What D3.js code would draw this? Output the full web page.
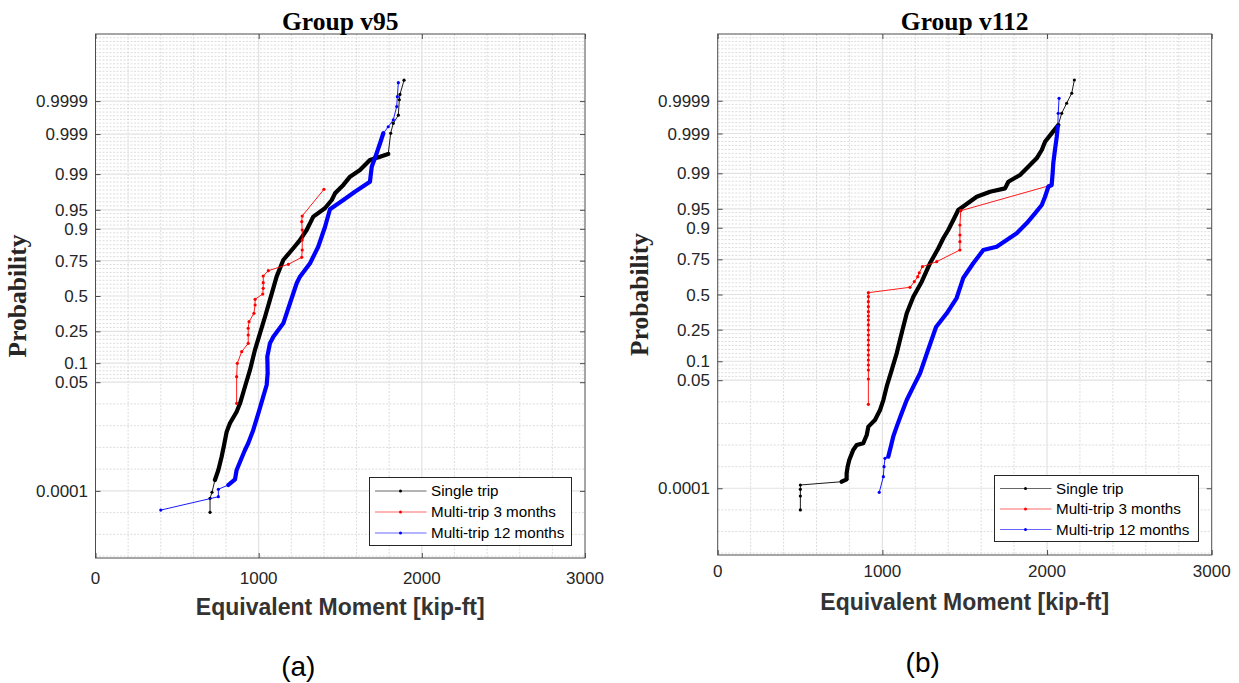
<!DOCTYPE html>
<html><head><meta charset="utf-8">
<script src="https://cdn.jsdelivr.net/npm/d3@7"></script>
<style>body{margin:0;background:#fff}svg{display:block}</style>
</head><body><svg id="chart" width="1239" height="683"></svg>
<script>
// ---------------- data ----------------
const yTickProbs  = [0.0001,0.05,0.1,0.25,0.5,0.75,0.9,0.95,0.99,0.999,0.9999];
const yTickLabels = ["0.0001","0.05","0.1","0.25","0.5","0.75","0.9","0.95","0.99","0.999","0.9999"];
const xTicks = [0,1000,2000,3000];
const seriesNames = ["Single trip","Multi-trip 3 months","Multi-trip 12 months"];
const panelTitles = ["Group v95","Group v112"];
const panelTags = ["(a)","(b)"];

// Group v95
const v95SingleX = [702,702,714,732,753,773,788,804,824,865,886,916,947,977,1008,1039,1069,1110,1151,1212,1253,1294,1335,1406,1448,1468,1519,1560,1621,1682,1744,1794,1809,1825,1856,1862,1866,1891];
const v95SingleP = [0.0000183,0.0000565,0.00009,0.000223,0.00045,0.00108,0.00223,0.0048,0.0076,0.0136,0.0203,0.0417,0.079,0.151,0.238,0.346,0.47,0.644,0.754,0.819,0.857,0.896,0.935,0.953,0.9665,0.975,0.983,0.9886,0.9919,0.99527,0.99607,0.99664,0.99905,0.99951,0.99972,0.99991,0.99994,0.999981];
const v95M3X = [865,865,869,896,936,936,936,941,971,978,978,1025,1028,1028,1028,1059,1182,1264,1267,1267,1267,1264,1267,1400];
const v95M3P = [0.0203,0.0618,0.0995,0.1439,0.1833,0.2284,0.269,0.312,0.3707,0.4318,0.475,0.515,0.5584,0.6,0.6487,0.6854,0.7274,0.77,0.81,0.8574,0.896,0.922,0.9366,0.9791];
const v95M12X = [400,753,753,814,855,865,886,916,936,967,998,1028,1049,1055,1053,1069,1090,1151,1192,1233,1253,1315,1365,1407,1437,1519,1590,1682,1693,1723,1744,1764,1794,1825,1846,1850,1856];
const v95M12P = [0.000022,0.000064,0.000113,0.000155,0.000234,0.00045,0.00078,0.00165,0.00247,0.0053,0.0126,0.0273,0.0447,0.0701,0.1234,0.183,0.2186,0.301,0.445,0.596,0.644,0.734,0.8266,0.907,0.951,0.9665,0.9767,0.9854,0.9932,0.99677,0.99822,0.99905,0.99938,0.99961,0.99985,0.999929,0.9999766];

// Group v112
const v112SingleX = [502,502,502,502,753,783,783,789,799,823,844,884,905,915,955,986,1006,1026,1057,1087,1117,1148,1188,1239,1289,1340,1370,1400,1431,1461,1512,1573,1654,1745,1765,1836,1886,1937,1968,1988,2028,2068,2089,2119,2150,2166];
const v112SingleP = [0.0000177,0.000055,0.000092,0.000128,0.000163,0.000195,0.0003,0.000475,0.00074,0.00142,0.00193,0.00215,0.0035,0.0056,0.008,0.0133,0.0214,0.0384,0.0737,0.1295,0.228,0.359,0.483,0.597,0.7254,0.8124,0.8597,0.892,0.9236,0.9476,0.9588,0.9697,0.9757,0.9792,0.9848,0.9891,0.99292,0.99553,0.99723,0.99832,0.99901,0.99943,0.999747,0.999879,0.999944,0.9999808];
const v112M3X = [915,915,915,915,915,915,915,915,915,915,915,915,915,915,915,915,915,915,915,1168,1194,1215,1224,1243,1330,1471,1471,1471,1471,1476,2008];
const v112M3P = [0.01755,0.0524,0.0737,0.088,0.1044,0.1228,0.1434,0.1663,0.1913,0.2186,0.2479,0.2793,0.3124,0.3399,0.3707,0.4075,0.4451,0.4832,0.514,0.555,0.597,0.6337,0.662,0.7033,0.7356,0.8035,0.8445,0.8733,0.9089,0.9461,0.9814];
const v112M12X = [981,1006,1010,1016,1036,1051,1066,1087,1117,1148,1188,1229,1269,1326,1391,1451,1491,1552,1613,1694,1755,1816,1876,1927,1968,1988,2008,2028,2034,2038,2048,2059,2065,2068,2073];
const v112M12P = [0.000073,0.000235,0.000475,0.00083,0.00093,0.00174,0.00318,0.0056,0.0113,0.0214,0.0384,0.0653,0.1267,0.2664,0.359,0.473,0.624,0.7254,0.8035,0.8205,0.8522,0.88,0.9141,0.9405,0.9571,0.9697,0.9807,0.9822,0.99,0.9941,0.99723,0.99877,0.99936,0.999747,0.999917];

// ---------------- helpers ----------------
function norminv(p){
  const a=[-3.969683028665376e+01,2.209460984245205e+02,-2.759285104469687e+02,1.383577518672690e+02,-3.066479806614716e+01,2.506628277459239e+00];
  const b=[-5.447609879822406e+01,1.615858368580409e+02,-1.556989798598866e+02,6.680131188771972e+01,-1.328068155288572e+01];
  const c=[-7.784894002430293e-03,-3.223964580411365e-01,-2.400758277161838e+00,-2.549732539343734e+00,4.374664141464968e+00,2.938163982698783e+00];
  const d=[7.784695709041462e-03,3.224671290700398e-01,2.445134137142996e+00,3.754408661907416e+00];
  const pl=0.02425, ph=1-pl; let q,r;
  if(p<pl){q=Math.sqrt(-2*Math.log(p));return (((((c[0]*q+c[1])*q+c[2])*q+c[3])*q+c[4])*q+c[5])/((((d[0]*q+d[1])*q+d[2])*q+d[3])*q+1);}
  if(p>ph){q=Math.sqrt(-2*Math.log(1-p));return -(((((c[0]*q+c[1])*q+c[2])*q+c[3])*q+c[4])*q+c[5])/((((d[0]*q+d[1])*q+d[2])*q+d[3])*q+1);}
  q=p-0.5;r=q*q;return (((((a[0]*r+a[1])*r+a[2])*r+a[3])*r+a[4])*r+a[5])*q/(((((b[0]*r+b[1])*r+b[2])*r+b[3])*r+b[4])*r+1);
}
const zip = (xs, ps) => xs.map((x,i)=>({x, p: ps[i]}));

const colors = ["#000000","#ff0000","#0000ff"];
const panels = [
  {title: panelTitles[0], tag: panelTags[0], left: 95.5, right: 585, top: 34, bottom: 558,
   tickBase: 584, xlabBase: 615, tagBase: 676, ylabX: 26, tickLabX: 88,
   legend: {x0: 369.5, x1: 571.5, y0: 477.5, y1: 545.5, rows: [491, 512, 533]},
   series: [zip(v95SingleX,v95SingleP), zip(v95M3X,v95M3P), zip(v95M12X,v95M12P)],
   dense: [[1.5e-4,0.997], null, [1.2e-4,0.9992]]},
  {title: panelTitles[1], tag: panelTags[1], left: 717.7, right: 1211.7, top: 34, bottom: 555,
   tickBase: 577, xlabBase: 610, tagBase: 672, ylabX: 648, tickLabX: 710,
   legend: {x0: 994.5, x1: 1198.5, y0: 475.5, y1: 541.5, rows: [488.5, 509, 529.5]},
   series: [zip(v112SingleX,v112SingleP), zip(v112M3X,v112M3P), zip(v112M12X,v112M12P)],
   dense: [[1.6e-4,0.9995], null, [9e-4,0.9995]]}
];

const svg = d3.select("#chart");
const axisCol = "#262626";

panels.forEach(P => {
  const x = d3.scaleLinear().domain([0,3000]).range([P.left, P.right]);
  const yz = d3.scaleLinear().domain([-5,5]).range([P.bottom, P.top]);
  const y = p => yz(norminv(p));
  const g = svg.append("g");

  // minor horizontal grid (evenly split between major ticks)
  const zb = [-5, ...yTickProbs.map(norminv), 5];
  const minorZ = [];
  for (let i=0;i<zb.length-1;i++){
    const z0=zb[i], z1=zb[i+1];
    const gap = yz(z0)-yz(z1);
    let n;
    if (z1 <= -1.6) { n = null; }
    else n = Math.max(1, Math.round(gap/3.8));
    if (n===null){
      const step = 0.4148;
      if (i===0){ for(let z=z1-step; z>-5; z-=step) minorZ.push(z); }
      else { for(let k=1;k<5;k++) minorZ.push(z0+(z1-z0)*k/5); }
    } else {
      for(let k=1;k<n;k++) minorZ.push(z0+(z1-z0)*k/n);
    }
  }
  g.append("g").selectAll("line").data(minorZ).join("line")
    .attr("x1",P.left).attr("x2",P.right)
    .attr("y1",d=>yz(d)).attr("y2",d=>yz(d))
    .attr("stroke","#d4d4d4").attr("stroke-width",0.8).attr("stroke-dasharray","2,1.5");
  // minor vertical grid
  const minorX = d3.range(200,3000,200).filter(v=>v%1000!==0);
  g.append("g").selectAll("line").data(minorX).join("line")
    .attr("x1",d=>x(d)).attr("x2",d=>x(d)).attr("y1",P.top).attr("y2",P.bottom)
    .attr("stroke","#d4d4d4").attr("stroke-width",0.8).attr("stroke-dasharray","2,1.5");
  // major grid
  g.append("g").selectAll("line").data(yTickProbs).join("line")
    .attr("x1",P.left).attr("x2",P.right).attr("y1",d=>y(d)).attr("y2",d=>y(d))
    .attr("stroke","#e2e2e2").attr("stroke-width",1.2);
  g.append("g").selectAll("line").data([1000,2000]).join("line")
    .attr("x1",d=>x(d)).attr("x2",d=>x(d)).attr("y1",P.top).attr("y2",P.bottom)
    .attr("stroke","#e2e2e2").attr("stroke-width",1.2);

  // series
  const line = d3.line().x(d=>x(d.x)).y(d=>y(d.p));
  P.series.forEach((data, si) => {
    const col = colors[si];
    const rng = P.dense[si];
    if (rng){
      const dd = data.filter(d=>d.p>=rng[0] && d.p<=rng[1]);
      g.append("path").datum(dd).attr("d",line).attr("fill","none")
        .attr("stroke",col).attr("stroke-width",4.2)
        .attr("stroke-linejoin","round").attr("stroke-linecap","round");
    }
    g.append("path").datum(data).attr("d",line).attr("fill","none")
      .attr("stroke",col).attr("stroke-width",0.9);
    g.append("g").selectAll("circle").data(data).join("circle")
      .attr("cx",d=>x(d.x)).attr("cy",d=>y(d.p)).attr("r",1.6).attr("fill",col);
  });

  // frame
  g.append("rect").attr("x",P.left).attr("y",P.top)
    .attr("width",P.right-P.left).attr("height",P.bottom-P.top)
    .attr("fill","none").attr("stroke","#4d4d4d").attr("stroke-width",1);

  // axes with inward ticks
  const tl = 5;
  const xAxisB = d3.axisBottom(x).tickValues(xTicks).tickSize(-tl).tickFormat("");
  const xAxisT = d3.axisTop(x).tickValues(xTicks).tickSize(-tl).tickFormat("");
  const yAxisL = d3.axisLeft(yz).tickValues(yTickProbs.map(norminv)).tickSize(-tl).tickFormat("");
  const yAxisR = d3.axisRight(yz).tickValues(yTickProbs.map(norminv)).tickSize(-tl).tickFormat("");
  [[xAxisB,`translate(0,${P.bottom})`],[xAxisT,`translate(0,${P.top})`],
   [yAxisL,`translate(${P.left},0)`],[yAxisR,`translate(${P.right},0)`]].forEach(([ax,tr])=>{
    const a = g.append("g").attr("transform",tr).call(ax);
    a.select(".domain").remove();
    a.selectAll(".tick line").attr("stroke","#4d4d4d");
  });

  // tick labels
  g.append("g").selectAll("text").data(xTicks).join("text")
    .attr("x",d=>x(d)).attr("y",P.tickBase).attr("text-anchor","middle")
    .attr("font-family","Liberation Sans, Arial, sans-serif").attr("font-size",17)
    .attr("fill",axisCol).text(d=>d);
  g.append("g").selectAll("text").data(yTickProbs).join("text")
    .attr("x",P.tickLabX).attr("y",d=>y(d)).attr("dy","0.36em").attr("text-anchor","end")
    .attr("font-family","Liberation Sans, Arial, sans-serif").attr("font-size",17)
    .attr("fill",axisCol).text((d,i)=>yTickLabels[i]);

  // titles and labels
  const cx = (P.left+P.right)/2;
  g.append("text").attr("x",cx).attr("y",29.5).attr("text-anchor","middle")
    .attr("font-family","Liberation Serif, Times New Roman, serif").attr("font-weight","bold")
    .attr("font-size",25.5).attr("fill","#000").text(P.title);
  g.append("text").attr("transform",`translate(${P.ylabX},${(P.top+P.bottom)/2}) rotate(-90)`)
    .attr("text-anchor","middle")
    .attr("font-family","Liberation Serif, Times New Roman, serif").attr("font-weight","bold")
    .attr("font-size",25.5).attr("fill",axisCol).text("Probability");
  g.append("text").attr("x",cx).attr("y",P.xlabBase).attr("text-anchor","middle")
    .attr("font-family","Liberation Sans, Arial, sans-serif").attr("font-weight","bold")
    .attr("font-size",23).attr("fill","#333").text("Equivalent Moment [kip-ft]");
  g.append("text").attr("x",cx-42).attr("y",P.tagBase).attr("text-anchor","middle")
    .attr("font-family","Liberation Sans, Arial, sans-serif")
    .attr("font-size",28).attr("fill","#000").text(P.tag);

  // legend
  const L = P.legend;
  const lg = g.append("g");
  lg.append("rect").attr("x",L.x0).attr("y",L.y0).attr("width",L.x1-L.x0).attr("height",L.y1-L.y0)
    .attr("fill","#fff").attr("stroke",axisCol).attr("stroke-width",1);
  seriesNames.forEach((nm,i)=>{
    const ry = L.rows[i];
    lg.append("line").attr("x1",L.x0+5.5).attr("x2",L.x0+57).attr("y1",ry).attr("y2",ry)
      .attr("stroke",colors[i]).attr("stroke-width",0.8).attr("stroke-opacity",0.75);
    lg.append("circle").attr("cx",L.x0+31).attr("cy",ry).attr("r",1.5).attr("fill",colors[i]);
    lg.append("text").attr("x",L.x0+61.5).attr("y",ry).attr("dy","0.36em")
      .attr("font-family","Liberation Sans, Arial, sans-serif").attr("font-size",15.2)
      .attr("fill","#000").text(nm);
  });
});
</script>
</body></html>
